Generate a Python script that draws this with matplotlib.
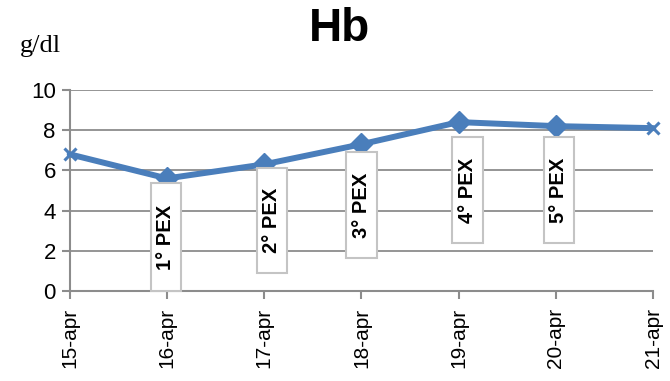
import matplotlib.pyplot as plt
from matplotlib.patches import Rectangle

dates = ['15-apr', '16-apr', '17-apr', '18-apr', '19-apr', '20-apr', '21-apr']
hb = [6.8, 5.6, 6.3, 7.3, 8.4, 8.2, 8.1]

# plasma exchange sessions: label, x centre, box bottom, box top
pex_labels = ['1° PEX', '2° PEX', '3° PEX', '4° PEX', '5° PEX']
pex_x = [0.99, 2.08, 3.0, 4.09, 5.03]
pex_lo = [0.0, 0.9, 1.64, 2.39, 2.39]
pex_hi = [5.37, 6.12, 6.92, 7.66, 7.66]

blue = '#4a7ebb'
grey = '#8c8c8c'

fig = plt.figure(figsize=(6.7, 3.81), dpi=100)
ax = fig.add_axes([0.104, 0.236, 0.871, 0.528])

xs = list(range(len(dates)))
ax.plot(xs, hb, '-', color=blue, lw=4.3, zorder=3, solid_capstyle='round', clip_on=False)
ax.plot(xs[1:-1], hb[1:-1], 'D', color=blue, ms=11, zorder=3)
ax.plot([xs[0], xs[-1]], [hb[0], hb[-1]], 'x', color=blue, ms=9, mew=2.2,
        zorder=3, clip_on=False)

box_w = 0.31
for lab, x, lo, hi in zip(pex_labels, pex_x, pex_lo, pex_hi):
    ax.add_patch(Rectangle((x - box_w / 2, lo), box_w, hi - lo, facecolor='white',
                           edgecolor='#c4c4c4', lw=1.5, zorder=4, clip_on=False))
    ax.text(x, (lo + hi) / 2, lab, rotation=90, ha='center', va='center',
            fontsize=14.5, fontweight='bold', family='Liberation Sans', zorder=5)

ax.set_xlim(0, 6)
ax.set_ylim(0, 10)
ax.set_yticks(range(0, 11, 2))
ax.set_xticks(xs)
ax.set_xticklabels(dates, rotation=90, fontsize=15, family='Liberation Sans')
for t in ax.get_yticklabels():
    t.set_fontsize(16)
    t.set_family('Liberation Sans')
ax.yaxis.grid(True, color=grey, lw=1.3)
ax.set_axisbelow(True)
for s in ['top', 'right']:
    ax.spines[s].set_visible(False)
for s in ['left', 'bottom']:
    ax.spines[s].set_color(grey)
    ax.spines[s].set_linewidth(1.5)
ax.tick_params(axis='both', color=grey, width=1.5, length=6, pad=4)
ax.tick_params(axis='x', pad=6)

fig.text(0.507, 0.925, 'Hb', ha='center', va='center', fontsize=33,
         fontweight='bold', family='Liberation Sans')
fig.text(0.03, 0.88, 'g/dl', ha='left', va='center', fontsize=19,
         family='Liberation Serif')

fig.savefig('out.png', dpi=100)
